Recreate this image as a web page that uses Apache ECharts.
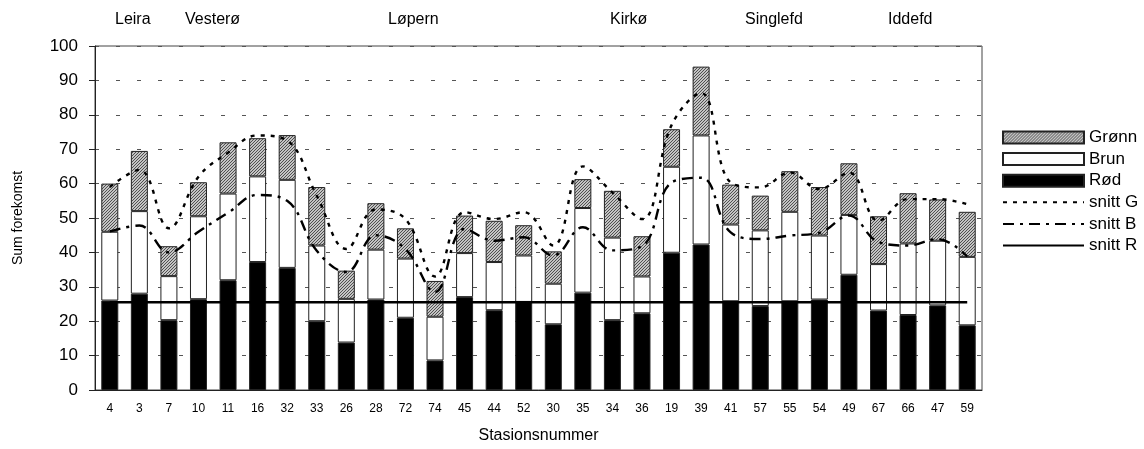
<!DOCTYPE html>
<html>
<head>
<meta charset="utf-8">
<script src="https://cdn.jsdelivr.net/npm/echarts@6/dist/echarts.min.js"></script>
<style>
    html, body {margin: 0; padding: 0; background: #fff;}
    #main {width: 1144px; height: 449px;}
</style>
</head>
<body>
<div id="main"></div>
<script>
var stations = ['4', '3', '7', '10', '11', '16', '32', '33', '26', '28', '72', '74', '45', '44', '52',
    '30', '35', '34', '36', '19', '39', '41', '57', '55', '54', '49', '67', '66', '47', '59'];

// stacked parts per station
var rod = [26, 28, 20.3, 26.4, 31.9, 37.2, 35.5, 20, 13.8, 26.3, 21, 8.6, 27, 23.2, 25.6,
    19.1, 28.3, 20.3, 22.3, 39.9, 42.3, 25.8, 24.4, 25.8, 26.3, 33.5, 23.1, 21.8, 24.6, 18.8];
var brun = [20, 24, 12.8, 24.1, 25.2, 24.9, 25.6, 22, 12.7, 14.5, 17.2, 12.7, 12.8, 14, 13.5,
    11.8, 24.6, 24, 10.7, 25, 31.7, 22.3, 22, 26, 18.6, 17.4, 13.5, 20.8, 18.8, 19.9];
var gronn = [14, 17.5, 8.7, 9.9, 14.9, 11.1, 13, 17, 8.2, 13.5, 8.8, 10.4, 10.9, 12, 8.8,
    9.4, 8.4, 13.6, 11.7, 10.9, 20, 11.6, 10.1, 11.8, 14.1, 15, 13.9, 14.6, 12, 13.1];

// averages
var snittG = [59, 64, 47, 62, 69, 74, 72.5, 56.5, 41, 52.5, 49.7, 33, 51.7, 49.7, 51.7,
    42, 65, 57.4, 49.7, 77, 86.3, 60.3, 58.9, 63.2, 58.4, 63.2, 49.2, 55.5, 55.5, 54];
var snittB = [46.1, 47.8, 40, 46, 51.5, 56.7, 55, 40.5, 34.3, 45, 41, 28.5, 46.8, 43.4, 44.4,
    39.1, 47.3, 40.6, 41.8, 60.3, 61.7, 45.8, 43.9, 44.9, 45.7, 50.7, 43, 42, 43.9, 38.8];
var snittR = [25.5, 25.5, 25.5, 25.5, 25.5, 25.5, 25.5, 25.5, 25.5, 25.5, 25.5, 25.5, 25.5, 25.5, 25.5,
    25.5, 25.5, 25.5, 25.5, 25.5, 25.5, 25.5, 25.5, 25.5, 25.5, 25.5, 25.5, 25.5, 25.5, 25.5];

var sites = ['Leira', 'Vesterø', 'Løpern', 'Kirkø', 'Singlefd', 'Iddefd'];
var siteX = [115, 185, 388, 610, 745, 888]; // left edge of each site name

var font = '"Liberation Sans", Arial, sans-serif';

function hatch() {
    var c = document.createElement('canvas');
    c.width = 3;
    c.height = 3;
    var ctx = c.getContext('2d');
    ctx.fillStyle = '#c4c4c4';
    ctx.fillRect(0, 0, 3, 3);
    ctx.fillStyle = '#505050';
    for (var i = 0; i < 3; i++) {
        ctx.fillRect(i, 2 - i, 1, 1);
    }
    return c;
}

var noSymbol = {color: 'rgba(0,0,0,0)', opacity: 0};

var option = {
    animation: false,
    textStyle: {fontFamily: font, color: '#000'},
    grid: {
        left: 95,
        right: 162,
        top: 46,
        bottom: 57,
        show: true,
        borderColor: '#444',
        borderWidth: 1
    },
    legend: {
        orient: 'vertical',
        left: 997,
        top: 124,
        itemWidth: 81,
        itemHeight: 12,
        itemGap: 4.6,
        textStyle: {fontSize: 17, lineHeight: 17, color: '#000', fontFamily: font},
        data: [
            {name: 'Grønn', icon: 'rect'},
            {name: 'Brun', icon: 'rect'},
            {name: 'Rød', icon: 'rect'},
            'snitt G', 'snitt B', 'snitt R'
        ]
    },
    xAxis: {
        type: 'category',
        data: stations,
        name: 'Stasionsnummer',
        nameLocation: 'middle',
        nameGap: 38,
        nameTextStyle: {fontSize: 16, color: '#000'},
        axisLine: {lineStyle: {color: '#222'}},
        axisTick: {length: 4, lineStyle: {color: '#222'}},
        axisLabel: {fontSize: 12, color: '#000', margin: 13}
    },
    yAxis: {
        type: 'value',
        min: 0,
        max: 100,
        interval: 10,
        name: 'Sum forekomst',
        nameLocation: 'middle',
        nameGap: 70,
        nameTextStyle: {fontSize: 14, color: '#000'},
        axisLine: {show: true, lineStyle: {color: '#222'}},
        axisTick: {show: true, length: 6, lineStyle: {color: '#222'}},
        axisLabel: {fontSize: 17, color: '#000', margin: 17},
        splitLine: {lineStyle: {color: '#555', type: [4, 17], width: 1}}
    },
    graphic: sites.map(function (s, i) {
        return {
            type: 'text',
            left: siteX[i],
            top: 12,
            style: {text: s, font: '16px ' + font, fill: '#000'}
        };
    }),
    series: [
        {
            name: 'Rød',
            type: 'bar',
            stack: 'sum',
            barWidth: 17,
            itemStyle: {color: '#000', borderColor: '#222', borderWidth: 1},
            data: rod
        },
        {
            name: 'Brun',
            type: 'bar',
            stack: 'sum',
            itemStyle: {color: '#fff', borderColor: '#222', borderWidth: 1},
            data: brun
        },
        {
            name: 'Grønn',
            type: 'bar',
            stack: 'sum',
            itemStyle: {color: {image: hatch(), repeat: 'repeat'}, borderColor: '#222', borderWidth: 1},
            data: gronn
        },
        {
            name: 'snitt G',
            type: 'line',
            smooth: 0.4,
            symbol: 'none',
            z: 5,
            itemStyle: noSymbol,
            lineStyle: {color: '#000', width: 2.4, type: [4, 6]},
            data: snittG
        },
        {
            name: 'snitt B',
            type: 'line',
            smooth: 0.4,
            symbol: 'none',
            z: 5,
            itemStyle: noSymbol,
            lineStyle: {color: '#000', width: 2.4, type: [11, 6, 3, 6]},
            data: snittB
        },
        {
            name: 'snitt R',
            type: 'line',
            symbol: 'none',
            z: 5,
            itemStyle: noSymbol,
            lineStyle: {color: '#000', width: 2.5},
            data: snittR
        }
    ]
};

var myChart = echarts.init(document.getElementById('main'));
myChart.setOption(option);
</script>
</body>
</html>
